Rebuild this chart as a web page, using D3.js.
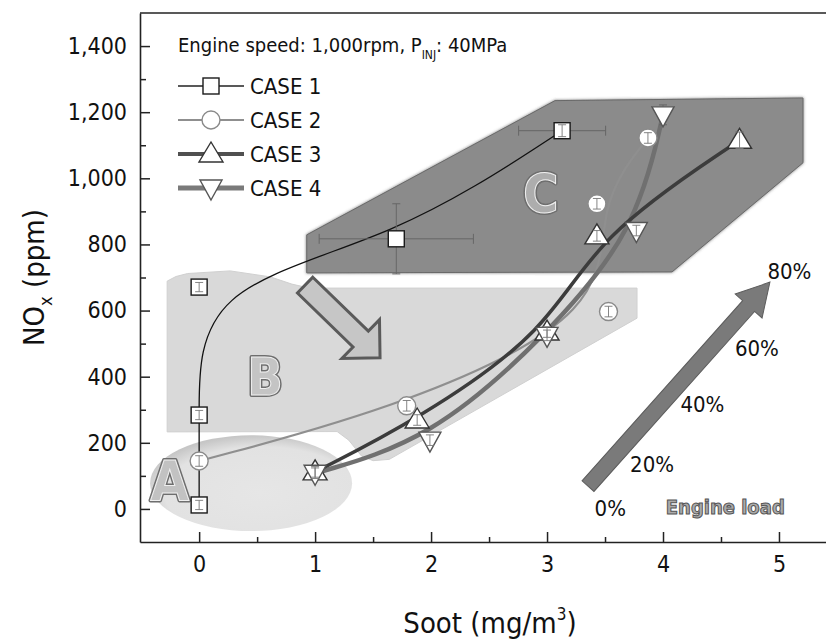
<!DOCTYPE html>
<html><head><meta charset="utf-8">
<script src="https://cdn.jsdelivr.net/npm/d3@7"></script>
<style>
html,body{margin:0;padding:0;background:#fff;}
svg{display:block;}
text{font-family:"DejaVu Sans Condensed","DejaVu Sans",sans-serif;fill:#111;}
</style></head><body>
<svg id="chart" width="826" height="643"></svg>
<script>
// ---------------- data ----------------
const seriesNames = ["CASE 1", "CASE 2", "CASE 3", "CASE 4"];
const case1Soot = [0, 0, 0, 1.70, 3.13];
const case1NOx = [12, 284, 671, 817, 1144];
const case1SootErr = [0, 0, 0, 0.665, 0.375];
const case1NOxErr = [14, 14, 14, 106, 18];
const case2Soot = [0, 1.79, 3.53, 3.43, 3.87];
const case2NOx = [145, 312, 597, 923, 1122];
const case2SootErr = [0, 0, 0, 0, 0];
const case2NOxErr = [16, 16, 16, 16, 16];
const case3Soot = [1.00, 1.88, 3.00, 3.43, 4.66];
const case3NOx = [112, 269, 535, 826, 1115];
const case3SootErr = [0, 0, 0, 0, 0];
const case3NOxErr = [16, 16, 16, 16, 25];
const case4Soot = [1.00, 1.99, 3.00, 3.77, 4.00];
const case4NOx = [108, 208, 525, 842, 1192];
const case4SootErr = [0, 0, 0, 0, 0];
const case4NOxErr = [16, 16, 16, 16, 30];
const xTicks = [0, 1, 2, 3, 4, 5];
const xMinorTicks = [0.5, 1.5, 2.5, 3.5, 4.5];
const yTicks = [0, 200, 400, 600, 800, 1000, 1200, 1400];
const yMinorTicks = [100, 300, 500, 700, 900, 1100, 1300];
const loadLabels = ["0%", "20%", "40%", "60%", "80%"];
const loadLabelPos = [[3.41, -20], [3.716, 112], [4.15, 293], [4.62, 463], [4.90, 696]];
// annotation regions (data units)
const regionACenter = [0.448, 78];
const regionARadii = [0.871, 145];
const regionB = [[-0.276, 233], [-0.276, 689], [-0.2, 703], [-0.1, 712], [0.267, 720], [0.612, 702], [0.8, 680], [0.95, 668], [3.776, 668], [3.776, 577], [1.64, 150], [1.5, 146], [1.40, 160], [1.29, 208], [1.19, 234]];
const regionC = [[0.928, 829], [3.069, 1235], [5.207, 1243], [5.207, 1047], [4.078, 717], [0.928, 714]];
const regionLetters = ["A", "B", "C"];
const regionLetterPos = [[-0.422, 27], [0.414, 345], [2.793, 898]];
const shiftArrow = [[0.914, 677], [1.560, 457]];
const loadArrow = [[3.353, 69], [4.922, 686]];

// ---------------- setup ----------------
const svg = d3.select("#chart");
const x = d3.scaleLinear().domain([-0.51, 5.44]).range([140, 830]);
const y = d3.scaleLinear().domain([-100, 1500]).range([542, 13]);

const defs = svg.append("defs");
const sh = defs.append("filter").attr("id", "shadow").attr("x", "-10%").attr("y", "-10%").attr("width", "120%").attr("height", "120%");
sh.append("feDropShadow").attr("dx", 0).attr("dy", 0).attr("stdDeviation", 1.6).attr("flood-color", "#555").attr("flood-opacity", 0.8);
const gradA = defs.append("radialGradient").attr("id", "gradA").attr("cx", "55%").attr("cy", "60%").attr("r", "60%");
gradA.append("stop").attr("offset", "0%").attr("stop-color", "#e6e6e6");
gradA.append("stop").attr("offset", "80%").attr("stop-color", "#e2e2e2");
gradA.append("stop").attr("offset", "100%").attr("stop-color", "#c6c6c6");

// ---------------- regions ----------------
const regions = svg.append("g");
const polyLine = d3.line().x(d => x(d[0])).y(d => y(d[1])).curve(d3.curveLinearClosed);
regions.append("path").attr("d", polyLine(regionB)).attr("fill", "#d9d9d9").attr("stroke", "#d0d0d0").attr("stroke-width", 1);
regions.append("ellipse")
  .attr("cx", x(regionACenter[0])).attr("cy", y(regionACenter[1]))
  .attr("rx", x(regionARadii[0]) - x(0)).attr("ry", y(0) - y(regionARadii[1]))
  .attr("fill", "url(#gradA)");
regions.append("path").attr("d", polyLine(regionC)).attr("fill", "#8b8b8b").attr("stroke", "#6a6a6a").attr("stroke-width", 1).attr("filter", "url(#shadow)");

// region letters (embossed)
const letterSizes = [56, 52, 54];
const letterFill = ["#c2c2c2", "#c4c4c4", "#adadad"];
regionLetters.forEach((L, i) => {
  const p = regionLetterPos[i];
  regions.append("text").attr("x", x(p[0])).attr("y", y(p[1]))
    .attr("font-family", "'Open Sans','DejaVu Sans',sans-serif").attr("font-weight", 600)
    .attr("font-size", letterSizes[i]).style("fill", "none").attr("stroke", "#6e6e6e").attr("stroke-width", 4).attr("stroke-linejoin", "round").text(L);
  regions.append("text").attr("x", x(p[0])).attr("y", y(p[1]))
    .attr("font-family", "'Open Sans','DejaVu Sans',sans-serif").attr("font-weight", 600)
    .attr("font-size", letterSizes[i]).style("fill", letterFill[i]).attr("stroke", "#efefef").attr("stroke-width", 1).text(L);
});

// block arrow helper
function blockArrow(g, from, to, halfShaft, halfHead, headLen, fill, stroke, sw) {
  const x0 = x(from[0]), y0 = y(from[1]), x1 = x(to[0]), y1 = y(to[1]);
  const L = Math.hypot(x1 - x0, y1 - y0);
  const ang = Math.atan2(y1 - y0, x1 - x0) * 180 / Math.PI;
  const pts = [[0, -halfShaft], [L - headLen, -halfShaft], [L - headLen, -halfHead], [L, 0], [L - headLen, halfHead], [L - headLen, halfShaft], [0, halfShaft]];
  g.append("polygon").attr("points", pts.map(p => p.join(",")).join(" "))
    .attr("transform", `translate(${x0},${y0}) rotate(${ang})`)
    .attr("fill", fill).attr("stroke", stroke).attr("stroke-width", sw).attr("stroke-linejoin", "miter");
}
blockArrow(regions, shiftArrow[0], shiftArrow[1], 11, 27, 27, "#c6c6c6", "#5a5a5a", 3);

// ---------------- series ----------------
const series = [
  {name: seriesNames[0], sx: case1Soot, sy: case1NOx, ex: case1SootErr, ey: case1NOxErr, line: "#111", lw: 1.3, mark: "square", ms: "#1a1a1a"},
  {name: seriesNames[1], sx: case2Soot, sy: case2NOx, ex: case2SootErr, ey: case2NOxErr, line: "#8f8f8f", lw: 2.2, mark: "circle", ms: "#8a8a8a"},
  {name: seriesNames[2], sx: case3Soot, sy: case3NOx, ex: case3SootErr, ey: case3NOxErr, line: "#3c3c3c", lw: 3.5, mark: "tri", ms: "#333"},
  {name: seriesNames[3], sx: case4Soot, sy: case4NOx, ex: case4SootErr, ey: case4NOxErr, line: "#707070", lw: 4.5, mark: "itri", ms: "#555"}
];
const lineGen = d3.line().x(d => x(d[0])).y(d => y(d[1])).curve(d3.curveBasis);
const linesG = svg.append("g");
[1, 3, 2, 0].forEach(i => {
  const s = series[i];
  linesG.append("path").attr("d", lineGen(s.sx.map((v, j) => [v, s.sy[j]])))
    .attr("fill", "none").attr("stroke", s.line).attr("stroke-width", s.lw).attr("stroke-linecap", "round");
});

function errBars(g, s, onlySmall) {
  s.sx.forEach((v, j) => {
    const cx = x(v), cy = y(s.sy[j]);
    const ey = s.ey[j], ex = s.ex[j];
    if (ey) {
      const yt = y(s.sy[j] + ey), yb = y(s.sy[j] - ey);
      const small = (yb - yt) / 2 < 9;
      if (!onlySmall || small) {
        g.append("line").attr("x1", cx).attr("x2", cx).attr("y1", yt).attr("y2", yb);
        g.append("line").attr("x1", cx - 4).attr("x2", cx + 4).attr("y1", yt).attr("y2", yt);
        g.append("line").attr("x1", cx - 4).attr("x2", cx + 4).attr("y1", yb).attr("y2", yb);
      }
    }
    if (ex && !onlySmall) {
      const xl = x(v - ex), xr = x(v + ex);
      g.append("line").attr("x1", xl).attr("x2", xr).attr("y1", cy).attr("y2", cy);
      g.append("line").attr("x1", xl).attr("x2", xl).attr("y1", cy - 5).attr("y2", cy + 5);
      g.append("line").attr("x1", xr).attr("x2", xr).attr("y1", cy - 5).attr("y2", cy + 5);
    }
  });
}
function marker(g, type, cx, cy, stroke) {
  let el;
  if (type === "square") el = g.append("rect").attr("x", cx - 8).attr("y", cy - 8).attr("width", 16).attr("height", 16);
  else if (type === "circle") el = g.append("circle").attr("cx", cx).attr("cy", cy).attr("r", 9);
  else if (type === "tri") el = g.append("polygon").attr("points", `${cx},${cy - 12} ${cx + 12},${cy + 8} ${cx - 12},${cy + 8}`);
  else el = g.append("polygon").attr("points", `${cx},${cy + 12} ${cx + 11},${cy - 8} ${cx - 11},${cy - 8}`);
  el.attr("fill", "#fff").attr("stroke", stroke).attr("stroke-width", 1.4);
  return el;
}
const errG = svg.append("g").attr("stroke", "#666").attr("stroke-width", 1);
series.forEach(s => errBars(errG, s, false));
const markG = svg.append("g");
[1, 0, 2, 3].forEach(i => {
  const s = series[i];
  s.sx.forEach((v, j) => marker(markG, s.mark, x(v), y(s.sy[j]), s.ms));
});
const errG2 = svg.append("g").attr("stroke", "#777").attr("stroke-width", 0.9);
series.forEach(s => errBars(errG2, s, true));

// ---------------- engine load arrow & labels ----------------
const loadG = svg.append("g");
blockArrow(loadG, loadArrow[0], loadArrow[1], 8, 18, 32, "#7a7a7a", "#5c5c5c", 1);
loadLabels.forEach((t, i) => {
  loadG.append("text").attr("x", x(loadLabelPos[i][0])).attr("y", y(loadLabelPos[i][1]))
    .attr("font-size", 22).text(t);
});
loadG.append("text").attr("x", x(5.05)).attr("y", y(-16)).attr("text-anchor", "end")
  .attr("font-size", 20).attr("font-weight", "bold").style("fill", "#ababab")
  .attr("stroke", "#555").attr("stroke-width", 1).text("Engine load");

// ---------------- axes ----------------
const axG = svg.append("g");
axG.append("g").attr("transform", "translate(0,542)")
  .call(d3.axisBottom(x).tickValues(xTicks).tickSizeInner(-10).tickSizeOuter(0).tickPadding(14).tickFormat(d3.format("d")));
axG.append("g").attr("transform", "translate(0,542)")
  .call(d3.axisBottom(x).tickValues(xMinorTicks).tickSizeInner(-5).tickSizeOuter(0).tickFormat(""))
  .call(g => g.select(".domain").remove());
axG.append("g").attr("transform", "translate(140,0)")
  .call(d3.axisLeft(y).tickValues(yTicks).tickSizeInner(-10).tickSizeOuter(0).tickPadding(13).tickFormat(d3.format(",")));
axG.append("g").attr("transform", "translate(140,0)")
  .call(d3.axisLeft(y).tickValues(yMinorTicks).tickSizeInner(-6).tickSizeOuter(0).tickFormat(""))
  .call(g => g.select(".domain").remove());
axG.selectAll(".domain").attr("stroke", "#222").attr("stroke-width", 1.6);
axG.selectAll(".tick line").attr("stroke", "#222").attr("stroke-width", 1.5);
axG.selectAll(".tick text").attr("font-size", 23).attr("font-family", "'DejaVu Sans Condensed','DejaVu Sans',sans-serif").style("fill", "#111");
axG.append("line").attr("x1", 140).attr("x2", 830).attr("y1", 13).attr("y2", 13).attr("stroke", "#222").attr("stroke-width", 1.6);

// axis titles
const yt = svg.append("text").attr("transform", `translate(44,${(y(-100) + y(1500)) / 2}) rotate(-90)`)
  .attr("text-anchor", "middle").attr("font-size", 29);
yt.append("tspan").text("NO");
yt.append("tspan").attr("font-size", 18).attr("dy", 8).text("x");
yt.append("tspan").attr("dy", -8).text(" (ppm)");
const xt = svg.append("text").attr("x", 490).attr("y", 633).attr("text-anchor", "middle").attr("font-size", 29);
xt.append("tspan").text("Soot (mg/m");
xt.append("tspan").attr("font-size", 17).attr("dy", -13).text("3");
xt.append("tspan").attr("dy", 13).text(")");

// ---------------- legend ----------------
const lg = svg.append("g");
const title = lg.append("text").attr("x", 178).attr("y", 52).attr("font-size", 20);
title.append("tspan").text("Engine speed: 1,000rpm, P");
title.append("tspan").attr("font-size", 12).attr("dy", 7).text("INJ");
title.append("tspan").attr("dy", -7).text(": 40MPa");
const legendRows = [86, 120, 154, 188];
const legLineColor = ["#222", "#8f8f8f", "#505050", "#7a7a7a"];
const legLineW = [1.3, 2.2, 4, 5];
series.forEach((s, i) => {
  const ry = legendRows[i];
  lg.append("line").attr("x1", 178).attr("x2", 244).attr("y1", ry).attr("y2", ry)
    .attr("stroke", legLineColor[i]).attr("stroke-width", legLineW[i]);
  marker(lg, s.mark, 211, ry, s.ms);
  lg.append("text").attr("x", 250).attr("y", ry + 8).attr("font-size", 22).text(s.name);
});
</script></body></html>
